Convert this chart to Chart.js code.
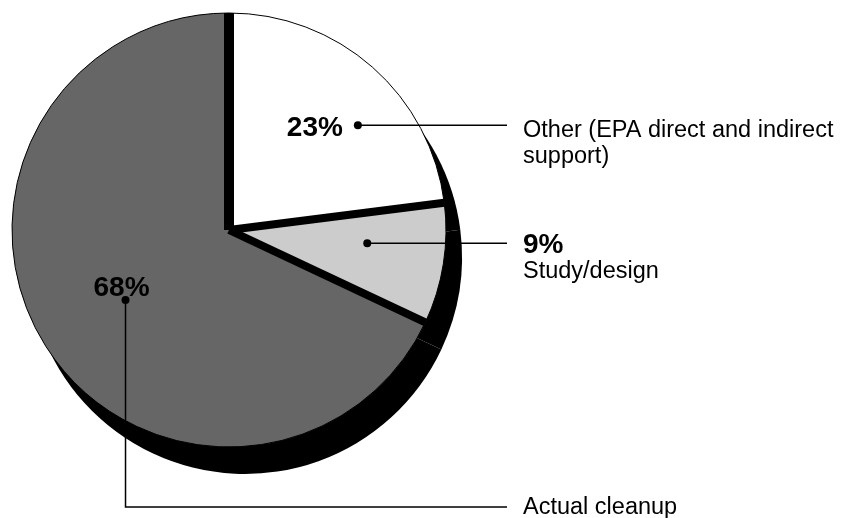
<!DOCTYPE html>
<html>
<head>
<meta charset="utf-8">
<script src="https://cdn.jsdelivr.net/npm/chart.js@4"></script>
<style>
  html, body { margin: 0; padding: 0; background: #fff; }
  #wrap { width: 843px; height: 518px; position: relative; }
</style>
</head>
<body>
<div id="wrap"><canvas id="pie"></canvas></div>
<script>
// данные диаграммы
const categories = ['Other (EPA direct and indirect support)', 'Study/design', 'Actual cleanup'];
const shares = [23, 9, 68];
const sliceColors = ['#ffffff', '#cccccc', '#666666'];
const percentLabels = ['23%', '9%', '68%'];
const calloutLines = [['Other (EPA direct and indirect', 'support)'], ['Study/design'], ['Actual cleanup']];

const FONT = '"Liberation Sans", Arial, Helvetica, sans-serif';

// где ставить точку выноски внутри сектора: доля угла и доля радиуса
const dotPlace = [[0.615, 0.765], [0.39, 0.64], [0.493, 0.576]];

// тень сектора — чёрная копия со сдвигом вниз-вправо
const shadowPlugin = {
  id: 'shadow',
  beforeDatasetsDraw(chart) {
    const ctx = chart.ctx;
    ctx.save();
    ctx.fillStyle = '#000';
    chart.getDatasetMeta(0).data.forEach(arc => {
      ctx.beginPath();
      ctx.moveTo(arc.x + 16, arc.y + 27);
      ctx.arc(arc.x + 16, arc.y + 27, arc.outerRadius, arc.startAngle, arc.endAngle);
      ctx.closePath();
      ctx.fill();
    });
    ctx.restore();
  }
};

// толстые чёрные разделители и выноски с подписями
const calloutPlugin = {
  id: 'callouts',
  afterDatasetsDraw(chart) {
    const ctx = chart.ctx;
    const arcs = chart.getDatasetMeta(0).data;
    ctx.save();
    ctx.strokeStyle = '#000';
    ctx.lineCap = 'butt';
    arcs.forEach(arc => {
      ctx.lineWidth = arc.startAngle < -Math.PI / 2 + 0.01 ? 10 : 8;
      ctx.beginPath();
      ctx.moveTo(arc.x, arc.y);
      ctx.lineTo(arc.x + arc.outerRadius * Math.cos(arc.startAngle), arc.y + arc.outerRadius * Math.sin(arc.startAngle));
      ctx.stroke();
    });

    const lineEnd = 507;
    const textX = 523;
    ctx.fillStyle = '#000';
    ctx.lineWidth = 1.5;
    arcs.forEach((arc, i) => {
      const a = arc.startAngle + dotPlace[i][0] * (arc.endAngle - arc.startAngle);
      const r = dotPlace[i][1] * arc.outerRadius;
      const dx = arc.x + r * Math.cos(a);
      const dy = arc.y + r * Math.sin(a);

      ctx.beginPath();
      if (i === 2) {
        ctx.moveTo(dx, dy);
        ctx.lineTo(dx, 507);
        ctx.lineTo(lineEnd, 507);
      } else {
        ctx.moveTo(dx, dy);
        ctx.lineTo(lineEnd, dy);
      }
      ctx.stroke();
      ctx.beginPath();
      ctx.arc(dx, dy, 4, 0, Math.PI * 2);
      ctx.fill();

      ctx.textBaseline = 'alphabetic';
      if (i === 0) {
        ctx.font = 'bold 28px ' + FONT;
        ctx.textAlign = 'right';
        ctx.fillText(percentLabels[i], dx - 15, dy + 11);
        ctx.font = '23.5px ' + FONT;
        ctx.textAlign = 'left';
        calloutLines[i].forEach((t, k) => ctx.fillText(t, textX, dy + 12 + k * 26));
      } else if (i === 1) {
        ctx.font = 'bold 28px ' + FONT;
        ctx.textAlign = 'left';
        ctx.fillText(percentLabels[i], textX, dy + 10);
        ctx.font = '23.5px ' + FONT;
        calloutLines[i].forEach((t, k) => ctx.fillText(t, textX, dy + 35 + k * 26));
      } else {
        ctx.font = 'bold 28px ' + FONT;
        ctx.textAlign = 'center';
        ctx.fillText(percentLabels[i], dx - 4, dy - 4);
        ctx.font = '23.5px ' + FONT;
        ctx.textAlign = 'left';
        calloutLines[i].forEach((t, k) => ctx.fillText(t, textX, 514 + k * 26));
      }
    });
    ctx.restore();
  }
};

new Chart(document.getElementById('pie'), {
  type: 'pie',
  data: {
    labels: categories,
    datasets: [{
      data: shares,
      backgroundColor: sliceColors,
      borderColor: '#000',
      borderWidth: 1
    }]
  },
  options: {
    responsive: true,
    maintainAspectRatio: false,
    animation: false,
    radius: 217,
    layout: { padding: { left: 12, right: 397, top: 13, bottom: 71 } },
    plugins: {
      legend: { display: false },
      tooltip: { enabled: false }
    }
  },
  plugins: [shadowPlugin, calloutPlugin]
});
</script>
</body>
</html>
